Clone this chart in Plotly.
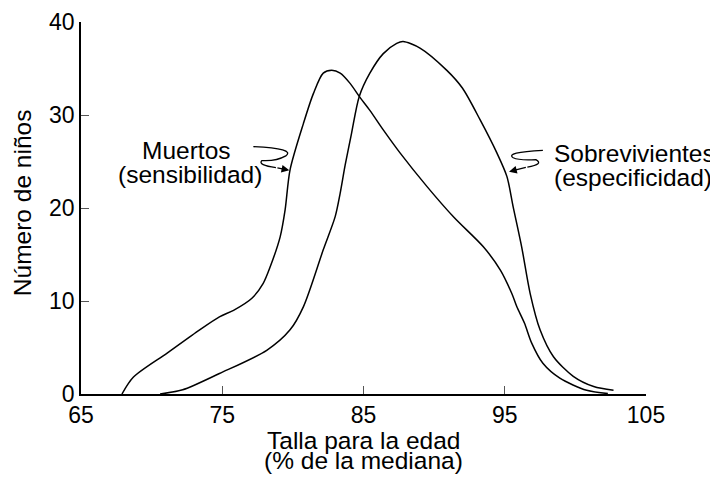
import plotly.graph_objects as go

FONT = "Liberation Sans, Arial, Helvetica, sans-serif"

# Curvas (talla para la edad, % de la mediana)
muertos_x = [67.9, 68.7, 71.1, 73.4, 74.8, 75.8, 77.1, 77.9, 78.4, 79.1, 79.45, 79.8,
             80.75, 81.45, 82.15, 82.75, 83.35, 84.05, 84.7, 85.45, 86.4, 87.6, 89.5,
             91.4, 93.5, 94.7, 95.5, 95.85, 96.4, 96.9, 97.7, 98.9, 100.8, 102.3]
muertos_y = [0.0, 1.8, 4.4, 6.9, 8.3, 9.0, 10.3, 11.9, 13.7, 16.9, 19.8, 24.1,
             29.1, 32.3, 34.5, 34.8, 34.5, 33.4, 32.0, 30.5, 28.4, 25.9, 22.3,
             19.0, 15.8, 13.3, 10.8, 9.4, 7.6, 5.5, 3.3, 1.7, 0.4, 0.05]

sobrev_x = [70.6, 72.2, 74.8, 78.15, 79.8, 80.75, 82.15, 83.0, 83.35, 83.7, 84.15,
            84.7, 85.45, 86.4, 87.35, 87.8, 89.0, 90.9, 92.0, 93.25, 94.45, 95.15,
            95.6, 96.2, 96.8, 97.5, 98.45, 99.85, 101.3, 102.7]
sobrev_y = [0.0, 0.45, 2.2, 4.7, 6.9, 9.4, 15.5, 19.1, 21.6, 24.6, 28.0,
            32.0, 34.5, 36.6, 37.7, 37.9, 37.2, 34.8, 32.9, 29.5, 25.9, 23.4,
            20.1, 15.8, 10.8, 6.9, 4.0, 1.9, 0.8, 0.4]

x_ticks = [65, 75, 85, 95, 105]
y_ticks = [0, 10, 20, 30, 40]

fig = go.Figure()
for xs, ys in [(muertos_x, muertos_y), (sobrev_x, sobrev_y)]:
    fig.add_trace(go.Scatter(x=xs, y=ys, mode="lines",
                             line=dict(color="black", width=1.5, shape="spline", smoothing=0.8),
                             hoverinfo="skip", showlegend=False))

# flechas onduladas de las etiquetas
squiggles = [
    ("M 77.2,26.6 Q 80.2,26.4 79.5,25.6 Q 78.8,25.0 77.8,25.1 Q 77.5,24.6 78.8,24.35",
     (78.8, 24.35), (79.75, 24.05)),
    ("M 97.7,26.2 Q 95.0,26.0 95.6,25.4 Q 96.0,25.1 97.2,25.2 Q 97.8,24.7 96.6,24.4",
     (96.6, 24.4), (95.3, 23.9)),
]
for path, tail, head in squiggles:
    fig.add_shape(type="path", path=path, xref="x", yref="y",
                  line=dict(color="black", width=1.3))
    fig.add_annotation(x=head[0], y=head[1], ax=tail[0], ay=tail[1],
                       xref="x", yref="y", axref="x", ayref="y", text="",
                       showarrow=True, arrowhead=2, arrowsize=1.2, arrowwidth=1.3,
                       arrowcolor="black")

label_font = dict(size=24.5, color="black")
for text, x, y, anchor in [("Muertos", 72.5, 26.2, "center"),
                           ("(sensibilidad)", 72.7, 23.65, "center"),
                           ("Sobrevivientes", 98.35, 25.9, "left"),
                           ("(especificidad)", 98.35, 23.3, "left")]:
    fig.add_annotation(x=x, y=y, xref="x", yref="y", text=text, showarrow=False,
                       xanchor=anchor, yanchor="middle", font=label_font)

# títulos de los ejes
fig.add_annotation(x=0.5, y=-0.1263, xref="paper", yref="paper", showarrow=False,
                   text="Talla para la edad", xanchor="center", yanchor="middle",
                   font=label_font)
fig.add_annotation(x=0.5, y=-0.180, xref="paper", yref="paper", showarrow=False,
                   text="(% de la mediana)", xanchor="center", yanchor="middle",
                   font=label_font)
fig.add_annotation(x=-0.1044, y=0.513, xref="paper", yref="paper", showarrow=False,
                   text="Número de niños", textangle=-90, xanchor="center",
                   yanchor="middle", font=label_font)

# la página añade 8 px de margen, de ahí el tamaño 710x472
fig.update_layout(
    width=710, height=472,
    paper_bgcolor="white", plot_bgcolor="white",
    font=dict(family=FONT, size=23, color="black"),
    margin=dict(l=73, r=72, t=14, b=86),
)
fig.update_xaxes(range=[65, 105], tickvals=x_ticks, showgrid=False, zeroline=False,
                 showline=True, linecolor="black", linewidth=1.5, automargin=False,
                 ticks="inside", ticklen=8, tickcolor="#555", tickwidth=1)
fig.update_yaxes(range=[0, 40], tickvals=y_ticks, showgrid=False, zeroline=False,
                 showline=True, linecolor="black", linewidth=1.5, automargin=False,
                 ticks="inside", ticklen=8, tickcolor="#555", tickwidth=1)

fig.write_html("out.html")
